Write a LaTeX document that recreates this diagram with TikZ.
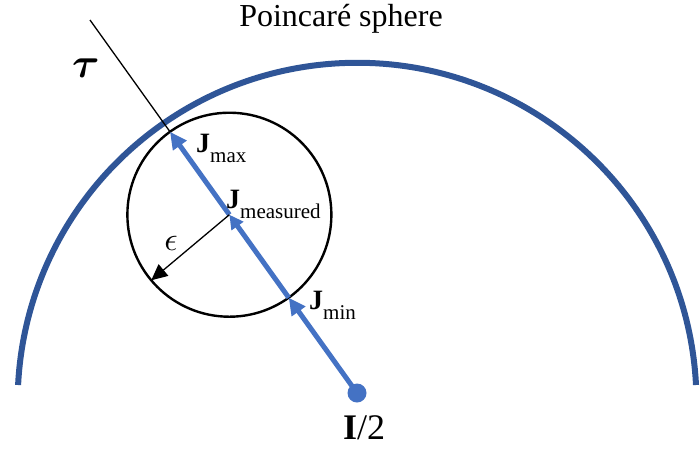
\documentclass[tikz,border=0pt]{standalone}
\usepackage{graphicx}
\usepackage{fontspec}
\setmainfont{Liberation Serif}
\usepackage{amsmath,bm}
\usetikzlibrary{arrows.meta,calc}
\definecolor{arcblue}{RGB}{47,85,151}
\definecolor{vecblue}{RGB}{68,114,196}
\newcommand\Jlab[1]{{\fontsize{28}{28}\selectfont\bfseries J}\raisebox{-10pt}{\fontsize{21}{21}\selectfont #1}}
\begin{document}
\begin{tikzpicture}[x=1pt,y=-1pt,
  vecseg/.style={line width=5pt, draw=vecblue, -{Triangle[length=17pt,width=16pt]}},
  vecsmall/.style={line width=5pt, draw=vecblue, -{Triangle[length=14pt,width=14pt]}},
  spherearc/.style={line width=6pt, draw=arcblue},
  thinline/.style={line width=1.3pt, draw=black},
  lbl/.style={inner sep=0pt, anchor=base west},
  ringnode/.style={circle, draw=black, line width=2.4pt, minimum size=204pt, inner sep=0pt, outer sep=0pt}]
\useasboundingbox (0,0) rectangle (700,451);
% big sphere arc
\draw[spherearc] (696,385) arc[start angle=2.9, end angle=177.1, radius=339.4pt];
\node[inner sep=0pt, anchor=base] (title) at (341,26) {\fontsize{32}{32}\selectfont Poincaré sphere};
% axis
\coordinate (T) at (90,20);
\coordinate (O) at (357,393);
\coordinate (M) at ($(T)!0.522!(O)$);
\coordinate (Jmax) at ($(M)!102pt!(T)$);
\coordinate (Jmin) at ($(M)!102pt!(O)$);
\node[ringnode] (C) at (M) {};
\draw[thinline] (T) -- (Jmax);
\draw[vecseg] (O) -- (Jmin);
\draw[vecsmall] (Jmin) -- (M);
\draw[vecseg] (M) -- (Jmax);
\fill[vecblue] (O) circle[radius=9.5pt];
\draw[thinline, -{Triangle[length=16pt,width=15pt]}] (M) -- (C.220);
% labels
\node[inner sep=0pt] (tau) at (86,68) {\scalebox{4.2}{$\bm{\tau}$}};
\node[inner sep=0pt] (eps) at (171,243) {\scalebox{3.3}{$\epsilon$}};
\node[lbl] (lmax) at (196,152) {\Jlab{max}};
\node[lbl] (lmeas) at (226,208) {\Jlab{measured}};
\node[lbl] (lmin) at (309,309) {\Jlab{min}};
\node[inner sep=0pt, anchor=base] (half) at (364,439) {\fontsize{36}{36}\selectfont\textbf{I}/2};
\end{tikzpicture}
\end{document}
